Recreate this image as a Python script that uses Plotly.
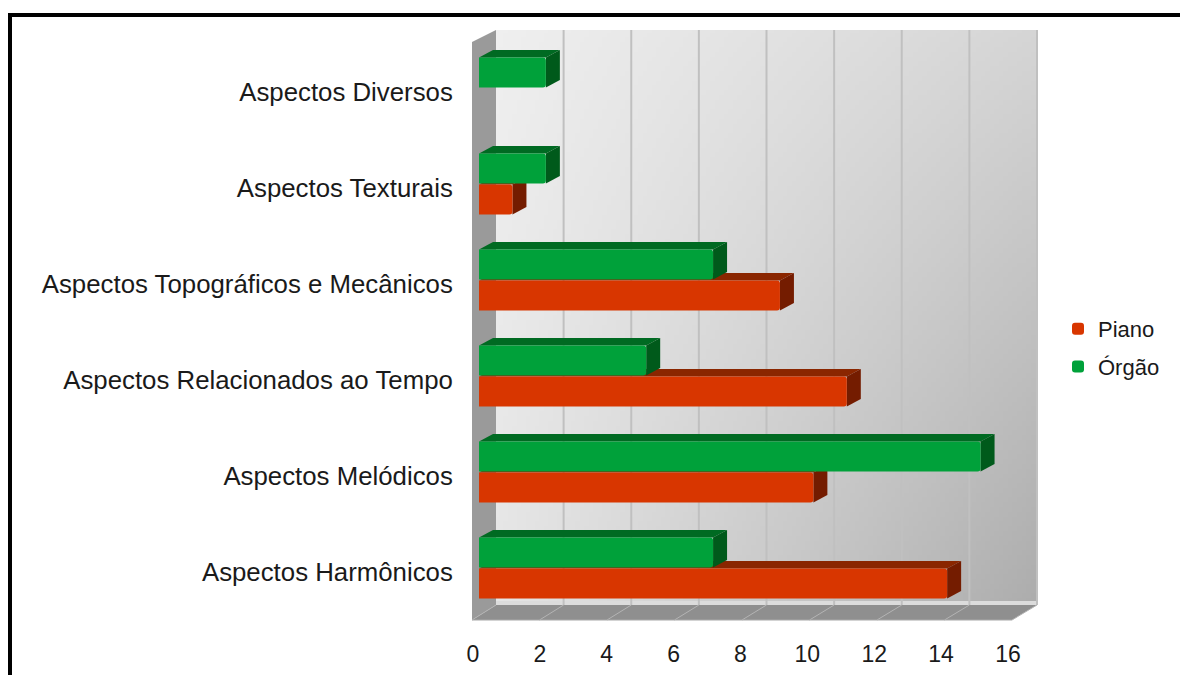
import base64
import struct
import zlib

import plotly.graph_objects as go

# ---------------- data ----------------
categories = [
    "Aspectos Harmônicos",
    "Aspectos Melódicos",
    "Aspectos Relacionados ao Tempo",
    "Aspectos Topográficos e Mecânicos",
    "Aspectos Texturais",
    "Aspectos Diversos",
]
piano = [14, 10, 11, 9, 1, 0]
orgao = [7, 15, 5, 7, 2, 2]
x_ticks = [0, 2, 4, 6, 8, 10, 12, 14, 16]
series_names = ["Piano", "Órgão"]

# ---------------- styling / geometry ----------------
FIG_W, FIG_H = 1180, 675
M_L, M_R, M_T, M_B = 479, 166, 40, 59
PW = FIG_W - M_L - M_R
PH = FIG_H - M_T - M_B
X_MAX = 16

RED_FACE, RED_TOP, RED_SIDE = "#d83600", "#8a2600", "#741c00"
GREEN_FACE, GREEN_TOP, GREEN_SIDE = "#00a13a", "#006a22", "#005a1b"

BAR_W = 0.313
OFF_PIANO = -0.318
OFF_ORGAO = 0.005
DX = 14 / (PW / X_MAX)   # depth in x (data units)
DY = 7.5 / (PH / 6)      # depth in y (data units)

# 3D box (pixels)
WALL_L, WALL_R, WALL_T, WALL_B = 496, 1037, 30, 605
FRONT_L, FRONT_R, FRONT_B = 472, 1012, 620


def px(x):
    return (x - M_L) / PW


def py(y):
    return (FIG_H - M_B - y) / PH


def back_x(v):
    return WALL_L + v * (WALL_R - WALL_L) / X_MAX


def front_x(v):
    return FRONT_L + v * (FRONT_R - FRONT_L) / X_MAX


def make_png(w, h, fn):
    raw = bytearray()
    for j in range(h):
        raw.append(0)
        for i in range(w):
            g = fn(i / (w - 1), j / (h - 1))
            raw += bytes((g, g, g))

    def chunk(t, d):
        c = struct.pack(">I", len(d)) + t + d
        return c + struct.pack(">I", zlib.crc32(t + d) & 0xFFFFFFFF)

    png = (b"\x89PNG\r\n\x1a\n"
           + chunk(b"IHDR", struct.pack(">IIBBBBB", w, h, 8, 2, 0, 0, 0))
           + chunk(b"IDAT", zlib.compress(bytes(raw)))
           + chunk(b"IEND", b""))
    return "data:image/png;base64," + base64.b64encode(png).decode()


wall_img = make_png(
    120, 120,
    lambda u, v: int(round(239 - 26 * u - 10 * v - 30 * u * v)),
)

shapes = []
# left side wall
shapes.append(dict(
    type="path", xref="paper", yref="paper", layer="below",
    path=(f"M {px(FRONT_L)},{py(42)} L {px(WALL_L)},{py(WALL_T)} "
          f"L {px(WALL_L)},{py(WALL_B)} L {px(FRONT_L)},{py(FRONT_B)} Z"),
    fillcolor="#9a9a9a", line=dict(width=0),
))
# floor
shapes.append(dict(
    type="path", xref="paper", yref="paper", layer="below",
    path=(f"M {px(FRONT_L)},{py(FRONT_B)} L {px(WALL_L)},{py(WALL_B)} "
          f"L {px(WALL_R)},{py(WALL_B)} L {px(FRONT_R)},{py(FRONT_B)} Z"),
    fillcolor="#8f8f8f", line=dict(width=0),
))
# light strip at the bottom of the back wall
shapes.append(dict(
    type="line", xref="paper", yref="paper", layer="below",
    x0=px(WALL_L), x1=px(WALL_R), y0=py(WALL_B - 2), y1=py(WALL_B - 2),
    line=dict(color="#dcdcdc", width=4),
))
# back wall gridlines and floor tick lines
for v in x_ticks:
    if v > 0:
        shapes.append(dict(
            type="line", xref="paper", yref="paper", layer="below",
            x0=px(back_x(v)), x1=px(back_x(v)), y0=py(WALL_T), y1=py(WALL_B),
            line=dict(color="#c0c0c0", width=2),
        ))
    shapes.append(dict(
        type="line", xref="paper", yref="paper", layer="below",
        x0=px(back_x(v)), x1=px(front_x(v)), y0=py(WALL_B), y1=py(FRONT_B),
        line=dict(color="#b4b4b4", width=1),
    ))
# floor front edge
shapes.append(dict(
    type="line", xref="paper", yref="paper", layer="below",
    x0=px(FRONT_L), x1=px(FRONT_R), y0=py(FRONT_B), y1=py(FRONT_B),
    line=dict(color="#a8a8a8", width=1),
))


# 3D depth faces of bars (from the data)
def add_depth(values, offset, top_col, side_col):
    for i, val in enumerate(values):
        if val <= 0:
            continue
        yb = i + offset
        yt = yb + BAR_W
        shapes.append(dict(
            type="path", xref="x", yref="y", layer="below",
            path=(f"M 0,{yt} L {val},{yt} L {val + DX},{yt + DY} "
                  f"L {DX},{yt + DY} Z"),
            fillcolor=top_col, line=dict(width=0),
        ))
        shapes.append(dict(
            type="path", xref="x", yref="y", layer="below",
            path=(f"M {val},{yb} L {val},{yt} L {val + DX},{yt + DY} "
                  f"L {val + DX},{yb + DY} Z"),
            fillcolor=side_col, line=dict(width=0),
        ))


add_depth(piano, OFF_PIANO, RED_TOP, RED_SIDE)
add_depth(orgao, OFF_ORGAO, GREEN_TOP, GREEN_SIDE)

# outer black frame
shapes.append(dict(
    type="rect", xref="paper", yref="paper", layer="above",
    x0=px(10), x1=px(FIG_W + 20), y0=py(15), y1=py(FIG_H + 20),
    line=dict(color="black", width=4), fillcolor="rgba(0,0,0,0)",
))

fig = go.Figure()
ypos = list(range(len(categories)))
fig.add_trace(go.Bar(
    y=ypos, x=piano, orientation="h", name=series_names[0],
    width=BAR_W, offset=OFF_PIANO, legendgroup="p",
    marker=dict(color=RED_FACE, line=dict(width=0)),
))
fig.add_trace(go.Bar(
    y=ypos, x=orgao, orientation="h", name=series_names[1],
    width=BAR_W, offset=OFF_ORGAO, legendgroup="o",
    marker=dict(color=GREEN_FACE, line=dict(width=0)),
))

fig.update_layout(
    width=FIG_W, height=FIG_H,
    margin=dict(l=M_L, r=M_R, t=M_T, b=M_B, autoexpand=False),
    paper_bgcolor="white", plot_bgcolor="rgba(0,0,0,0)",
    barmode="overlay", barcornerradius=3,
    font=dict(family="Liberation Sans, Arial, sans-serif", color="#1a1a1a"),
    showlegend=True,
    legend=dict(
        x=px(1058), y=py(308), xanchor="left", yanchor="top",
        traceorder="grouped", tracegroupgap=6,
        font=dict(size=22, color="#1a1a1a"),
        bgcolor="rgba(0,0,0,0)",
    ),
    shapes=shapes,
    images=[dict(
        source=wall_img, xref="paper", yref="paper",
        x=px(WALL_L), y=py(WALL_T),
        sizex=(WALL_R - WALL_L) / PW, sizey=(WALL_B - WALL_T) / PH,
        xanchor="left", yanchor="top", sizing="stretch", layer="below",
    )],
)
fig.update_xaxes(
    range=[0, X_MAX], tickvals=x_ticks, showgrid=False, zeroline=False,
    showline=False, ticks="outside", ticklen=17, tickcolor="rgba(0,0,0,0)",
    ticklabelshift=-6, tickfont=dict(size=23, color="#1a1a1a"),
)
fig.update_yaxes(
    range=[-0.5, 5.5], tickvals=ypos, ticktext=categories, showgrid=False,
    zeroline=False, showline=False, ticks="outside", ticklen=20,
    ticklabelshift=4,
    tickcolor="rgba(0,0,0,0)", tickfont=dict(size=25.8, color="#1a1a1a"),
)

fig.write_html("out.html")
